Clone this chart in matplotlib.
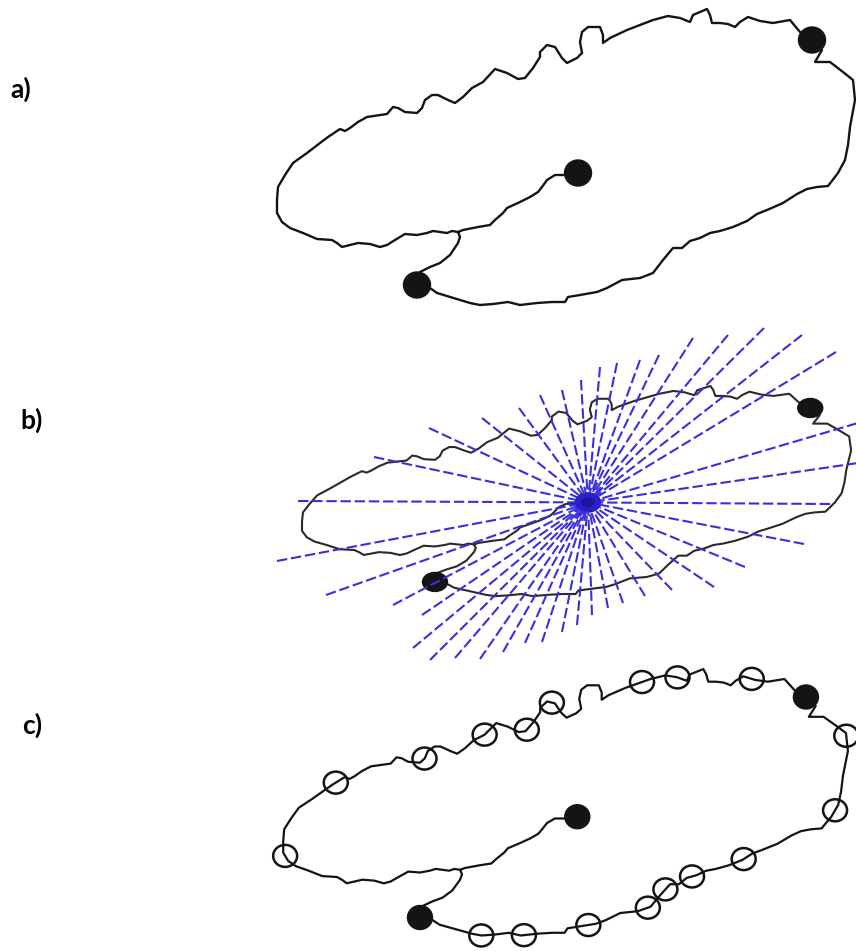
import numpy as np
import matplotlib
matplotlib.use("Agg")
import matplotlib.pyplot as plt
from matplotlib.patches import Ellipse

# outline, image pixel coordinates (x right, y down)
# path: centre dot -> junction -> round the lobe -> bottom dot -> junction
outline_x = [578, 565, 555, 547, 542, 538, 530, 520, 507, 503, 495, 490, 478, 463, 458,
             452, 447, 440, 433, 427, 417, 405, 395, 387, 380, 370, 358, 350, 342, 337,
             332, 317, 303, 290, 282, 277, 277, 278, 285, 293, 307, 320, 328, 340, 345,
             350, 358, 367, 387, 393, 398, 405, 417, 422, 425, 432, 438, 448, 455, 463,
             472, 483, 495, 507, 518, 525, 533, 540, 540, 547, 555, 562, 567, 577, 582,
             580, 582, 588, 600, 603, 603, 610, 627, 640, 653, 668, 680, 690, 693, 700,
             707, 710, 712, 720, 728, 735, 740, 748, 760, 773, 790, 800, 812, 822, 815,
             830, 843, 853, 855, 850, 848, 845, 838, 828, 817, 807, 797, 783, 767, 757,
             747, 733, 720, 710, 700, 690, 682, 673, 663, 653, 640, 622, 607, 597, 580,
             568, 565, 552, 537, 520, 508, 493, 480, 470, 460, 447, 437, 430, 417, 420,
             430, 440, 450, 458, 460, 458]
outline_y = [173, 175, 175, 180, 187, 192, 197, 202, 208, 213, 220, 225, 227, 230, 232,
             231, 233, 232, 231, 233, 235, 234, 240, 245, 247, 244, 243, 245, 247, 243,
             240, 239, 233, 228, 222, 213, 200, 187, 175, 163, 153, 143, 137, 129, 131,
             128, 122, 117, 114, 107, 108, 112, 113, 108, 100, 95, 95, 100, 103, 97,
             88, 82, 69, 73, 79, 78, 68, 57, 52, 45, 47, 58, 63, 58, 53,
             42, 32, 27, 27, 35, 43, 38, 30, 25, 20, 16, 18, 22, 15, 12,
             9, 15, 23, 23, 24, 27, 22, 17, 21, 23, 20, 32, 40, 50, 62,
             62, 72, 80, 100, 127, 145, 160, 173, 186, 187, 189, 194, 203, 210, 214,
             221, 227, 231, 233, 238, 241, 248, 248, 260, 273, 278, 280, 288, 292, 295,
             297, 302, 302, 303, 305, 302, 304, 305, 303, 300, 296, 293, 288, 285, 272,
             267, 263, 255, 243, 237, 232]

# filled dots in panel a: centre, bottom, top right
dots_x = [578, 417, 812]
dots_y = [173, 285, 40]

# per-panel placement of the outline: (x0, y0, sx, sy) relative to panel a
panel_b = (435, 408, 0.95, 0.71)
panel_c = (420, 697, 0.977, 0.90)

# panel b: end points of the dashed rays
ray_end_x = [298, 277, 326, 393, 422, 413, 430, 455, 480, 503, 525, 542, 562, 577, 592,
             608, 623, 645, 672, 714, 745, 804, 830, 858, 858, 836, 802, 764, 728, 693,
             659, 640, 617, 600, 581, 562, 540, 519, 482, 429, 374]
ray_end_y = [501, 561, 595, 605, 615, 648, 660, 658, 659, 652, 643, 642, 632, 625, 615,
             608, 603, 596, 590, 587, 567, 544, 504, 463, 423, 352, 335, 328, 335, 338,
             355, 360, 363, 367, 380, 390, 395, 408, 418, 428, 457]

# panel c: open circles (approximate centres, snapped onto the outline)
ring_x = [285, 336, 424, 487, 526, 552, 642, 678, 752, 844, 838, 743, 693, 665, 648,
          589, 524, 481]
ring_y = [856, 783, 758, 737, 729, 702, 682, 676, 678, 736, 812, 858, 880, 889, 908,
          929, 936, 937]

labels = ["a)", "b)", "c)"]
label_x = [10, 20, 22]
label_y = [89, 420, 725]

ink = "#141414"
ray_color = "#3a2fda"


def place(xs, ys, p):
    x0, y0, sx, sy = p
    ref_x, ref_y = dots_x[1], dots_y[2]
    xs = np.asarray(xs, float)
    ys = np.asarray(ys, float)
    return x0 + sx * (xs - ref_x), y0 + sy * (ys - ref_y)


def snap(px, py, xs, ys):
    # nearest point on the polyline
    best, bd = (px, py), 1e9
    for i in range(len(xs) - 1):
        ax, ay, bx, by = xs[i], ys[i], xs[i + 1], ys[i + 1]
        dx, dy = bx - ax, by - ay
        t = ((px - ax) * dx + (py - ay) * dy) / max(dx * dx + dy * dy, 1e-9)
        t = min(max(t, 0), 1)
        qx, qy = ax + t * dx, ay + t * dy
        d = (qx - px) ** 2 + (qy - py) ** 2
        if d < bd:
            bd, best = d, (qx, qy)
    return best


fig = plt.figure(figsize=(8.56, 9.51), dpi=100)
ax = fig.add_axes([0, 0, 1, 1])
ax.set_xlim(0, 856)
ax.set_ylim(951, 0)
ax.axis("off")

line_kw = dict(solid_joinstyle="round", solid_capstyle="round")

# panel a
ax.plot(outline_x, outline_y, color=ink, lw=1.7, zorder=2, **line_kw)
for x, y in zip(dots_x, dots_y):
    ax.add_patch(Ellipse((x, y), 27, 26, color=ink, zorder=3))

# panel b
bx, by = place(outline_x, outline_y, panel_b)
ax.plot(bx, by, color="#2a2a2a", lw=1.5, zorder=2, **line_kw)
dbx, dby = place(dots_x, dots_y, panel_b)
for x, y in zip(dbx, dby):
    ax.add_patch(Ellipse((x, y), 25, 19, color=ink, zorder=3))
cx, cy = dbx[0], dby[0]
for ex, ey in zip(ray_end_x, ray_end_y):
    # drawn from the outer end inwards so the dash phase varies at the hub
    ax.plot([ex, cx], [ey, cy], color=ray_color, lw=1.5,
            dashes=(5.0, 1.8), zorder=4)
ax.add_patch(Ellipse((cx, cy), 24, 17, color="#2a1fd0", zorder=5))
ax.add_patch(Ellipse((cx, cy), 12, 8, color="#1a1480", alpha=0.7, zorder=6))

# panel c
qx, qy = place(outline_x, outline_y, panel_c)
ax.plot(qx, qy, color=ink, lw=1.6, zorder=2, **line_kw)
dcx, dcy = place(dots_x, dots_y, panel_c)
for x, y in zip(dcx, dcy):
    ax.add_patch(Ellipse((x, y), 25, 24, color=ink, zorder=3))
for rx, ry in zip(ring_x, ring_y):
    sx, sy = snap(rx, ry, qx, qy)
    ax.add_patch(Ellipse((sx, sy), 24, 22, facecolor="none", edgecolor=ink,
                         lw=1.8, zorder=3))

for t, x, y in zip(labels, label_x, label_y):
    ax.text(x, y, t, fontsize=19, fontweight="bold", family="Lato",
            ha="left", va="center", color="black")

fig.savefig("out.png", dpi=100, facecolor="white")
